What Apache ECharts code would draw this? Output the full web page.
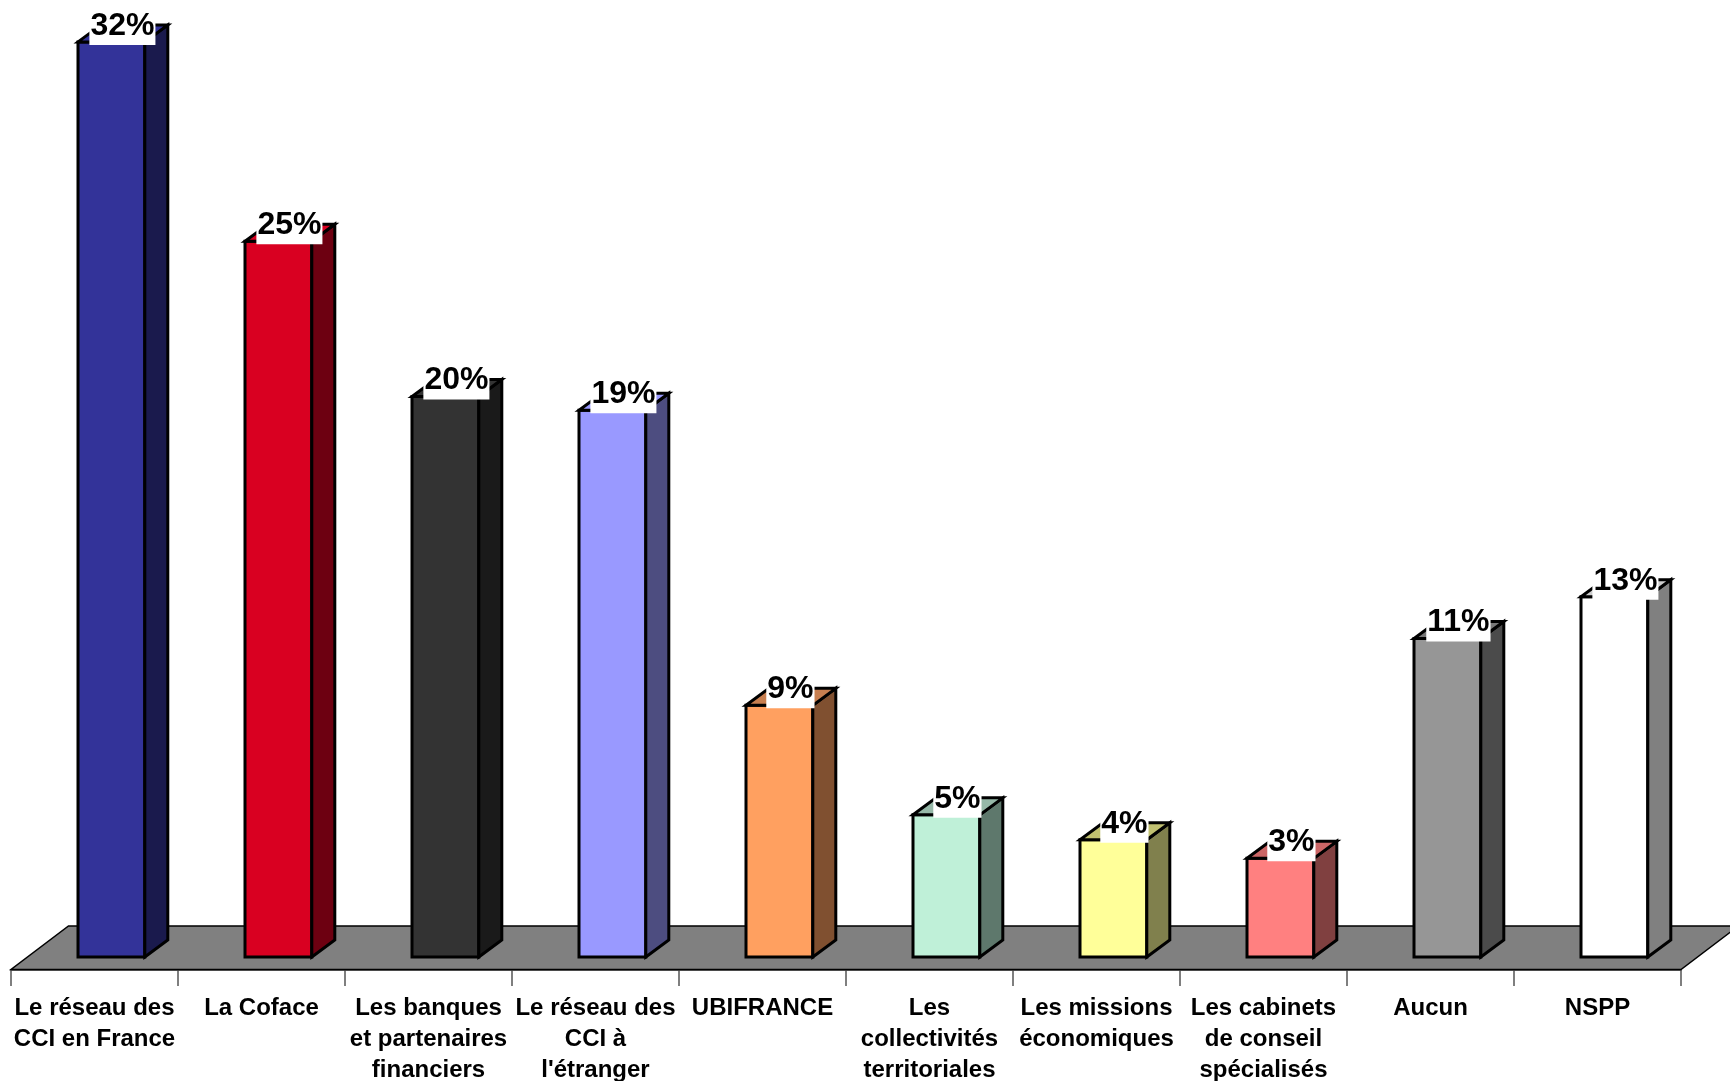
<!DOCTYPE html>
<html><head><meta charset="utf-8">
<style>html,body{margin:0;padding:0;background:#fff}#c{width:1730px;height:1081px}</style>
<script src="https://cdn.jsdelivr.net/npm/echarts@6/dist/echarts.min.js"></script>
</head><body><div id="c"></div>
<script>
const categories = ["Le réseau des\nCCI en France","La Coface","Les banques\net partenaires\nfinanciers","Le réseau des\nCCI à\nl'étranger","UBIFRANCE","Les\ncollectivités\nterritoriales","Les missions\néconomiques","Les cabinets\nde conseil\nspécialisés","Aucun","NSPP"];
const values = [32,25.03,19.6,19.12,8.8,4.97,4.1,3.45,11.14,12.6];
const valueLabels = ["32%","25%","20%","19%","9%","5%","4%","3%","11%","13%"];
const frontColors = ["#333399","#D90021","#333333","#9999FF","#FFA060","#BFF0D8","#FFFF99","#FF8080","#969696","#FFFFFF"];
const sideColors = ["#1A1A4D","#6D0011","#1A1A1A","#4D4D80","#805030","#5E786C","#80804D","#804040","#4B4B4B","#808080"];
const topColors = ["#333399","#D90021","#333333","#9999FF","#C87F50","#96B8A8","#C0C070","#CC6666","#787878","#CCCCCC"];

const DX = 23, DY = 17, FLOOR_UP = 12.5;
const stroke = {stroke:'#000', lineWidth:3, lineJoin:'miter'};
function poly(points, fill, extra){
  return {type:'polygon', shape:{points}, style:Object.assign({fill}, stroke, extra||{})};
}
const chart = echarts.init(document.getElementById('c'), null, {renderer:'canvas'});
chart.setOption({
  animation:false,
  backgroundColor:'#fff',
  grid:{left:11, right:49, top:11.5, bottom:111.5, containLabel:false, outerBoundsMode:'none'},
  xAxis:{type:'category', data:categories, boundaryGap:true,
    axisLine:{show:true, lineStyle:{color:'#333', width:1.5}},
    axisTick:{show:true, alignWithLabel:false, length:16.5, lineStyle:{color:'#555', width:1.5}},
    axisLabel:{interval:0, color:'#000', fontFamily:'"Liberation Sans"', fontWeight:'bold', fontSize:24, lineHeight:31, margin:23, verticalAlign:'top'}},
  yAxis:{type:'value', min:0, max:33.5, show:false, splitLine:{show:false}},
  series:[
    {type:'custom', coordinateSystem:'cartesian2d', z:1, silent:true, clip:false,
     data:[[0,0]],
     renderItem(p, api){
       const cs = p.coordSys;
       const x0 = cs.x, x1 = cs.x+cs.width, y = cs.y+cs.height;
       const up = 43.5, dx = 57.5;
       return poly([[x0,y],[x1,y],[x1+dx,y-up],[x0+dx,y-up]], '#808080', {lineWidth:1.5});
     }},
    {type:'custom', coordinateSystem:'cartesian2d', z:2, silent:true, clip:false,
     data:values.map((v,i)=>[i,v]),
     encode:{x:0,y:1},
     renderItem(p, api){
       const i = api.value(0), v = api.value(1);
       const base = api.coord([i,0]), top = api.coord([i,v]);
       const w = api.size([1,0])[0]*0.4;
       const xL = base[0]-16.5, xR = xL+w;
       const yB = base[1]-FLOOR_UP, yT = top[1]-FLOOR_UP;
       return {type:'group', children:[
         poly([[xL,yB],[xR,yB],[xR,yT],[xL,yT]], frontColors[i]),
         poly([[xR,yB],[xR+DX,yB-DY],[xR+DX,yT-DY],[xR,yT]], sideColors[i]),
         poly([[xL,yT],[xR,yT],[xR+DX,yT-DY],[xL+DX,yT-DY]], topColors[i]),
         {type:'text', z2:10, style:{text:valueLabels[i], x:xL+w/2+11, y:yT+3, align:'center', verticalAlign:'bottom',
           fill:'#000', font:'bold 32px "Liberation Sans"', backgroundColor:'#fff', padding:[0,1,3,1]}}
       ]};
     }}
  ]
});
</script></body></html>
